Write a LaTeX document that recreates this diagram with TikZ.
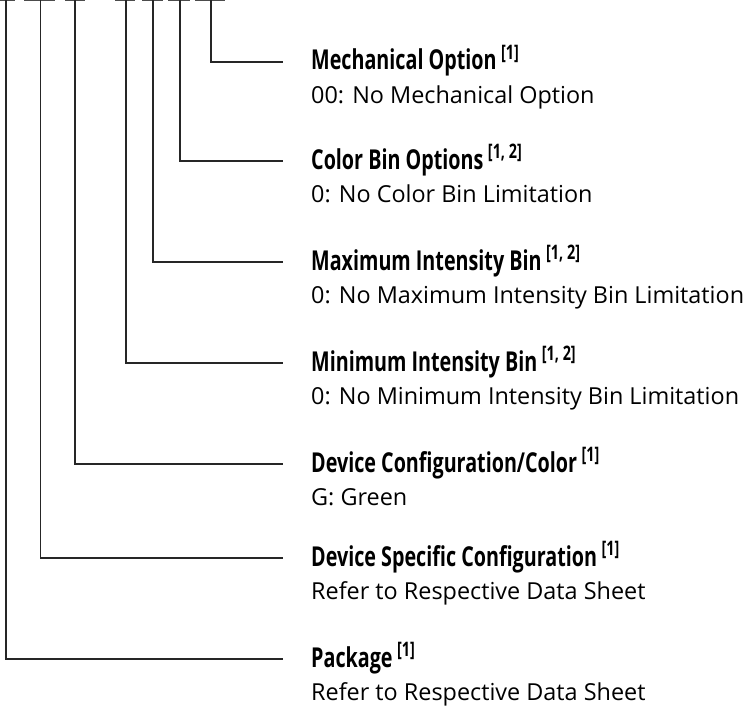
\documentclass[tikz,border=0pt]{standalone}
\usepackage{fontspec}
\setmainfont{Open Sans}
\newfontfamily\condbold[FakeStretch=0.72]{Open Sans}
\newcommand\supx[1]{\,\raisebox{0.40em}{\fontsize{20}{20}\selectfont #1}}
\begin{document}
\begin{tikzpicture}[x=1pt,y=-1pt,
  lead/.style={draw=black!85,line width=1.3pt},
  bar/.style={draw=black!70,line width=1.6pt},
  titlebox/.style={inner sep=0pt,anchor=base west,font=\condbold\bfseries\fontsize{27.4}{28}\selectfont},
  descbox/.style={inner sep=0pt,anchor=base west,font=\fontsize{23.4}{24}\selectfont}]
\useasboundingbox (0,0) rectangle (749,709);
% top placeholder bars
\foreach \a/\b in {0/15,24/55,65/85,115/135,142/163,168/190,195/225}
  \draw[bar] (\a,0.3) -- (\b,0.3);
% top coordinates
\coordinate (t1) at (211,0);
\coordinate (t2) at (180,0);
\coordinate (t3) at (153,0);
\coordinate (t4) at (126,0);
\coordinate (t5) at (75,0);
\coordinate (t6) at (40.7,0);
\coordinate (t7) at (6,0);
% line ends
\coordinate (e1) at (283,62);
\coordinate (e2) at (283,161);
\coordinate (e3) at (283,262);
\coordinate (e4) at (283,363);
\coordinate (e5) at (283,464);
\coordinate (e6) at (283,558);
\coordinate (e7) at (283,659);
% labels
\node[titlebox] (n1) at (311,70) {Mechanical Option\supx{[1]}};
\node[descbox] (d1) at (311,103) {00: No Mechanical Option};
\node[titlebox] (n2) at (311,169) {Color Bin Options\supx{[1, 2]}};
\node[descbox] (d2) at (311,202) {0: No Color Bin Limitation};
\node[titlebox] (n3) at (311,270) {Maximum Intensity Bin\supx{[1, 2]}};
\node[descbox] (d3) at (311,303) {0: No Maximum Intensity Bin Limitation};
\node[titlebox] (n4) at (311,371) {Minimum Intensity Bin\supx{[1, 2]}};
\node[descbox] (d4) at (311,404) {0: No Minimum Intensity Bin Limitation};
\node[titlebox] (n5) at (311,472) {Device Configuration/Color\supx{[1]}};
\node[descbox] (d5) at (311,505) {G: Green};
\node[titlebox] (n6) at (311,566) {Device Specific Configuration\supx{[1]}};
\node[descbox] (d6) at (311,599) {Refer to Respective Data Sheet};
\node[titlebox] (n7) at (311,667) {Package\supx{[1]}};
\node[descbox] (d7) at (311,700) {Refer to Respective Data Sheet};
% connectors
\foreach \i in {1,...,7}
  \draw[lead] (t\i) |- (e\i);
\end{tikzpicture}
\end{document}
